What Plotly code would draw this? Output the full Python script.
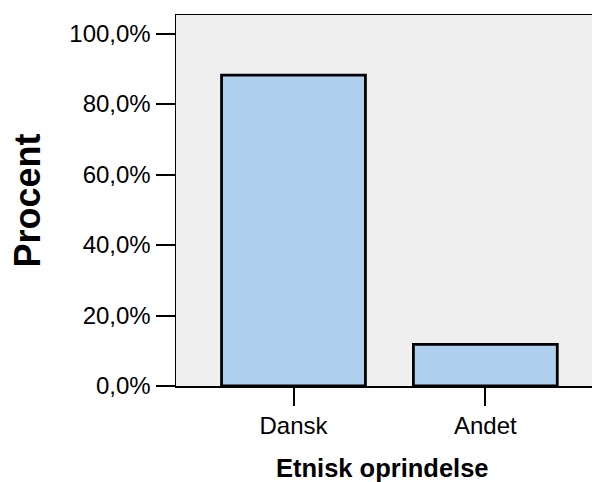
import plotly.graph_objects as go

categories = ["Dansk", "Andet"]
percent = [88.2, 11.8]
y_tickvals = [0, 20, 40, 60, 80, 100]
y_ticktext = ["0,0%", "20,0%", "40,0%", "60,0%", "80,0%", "100,0%"]

fig = go.Figure()
fig.add_trace(go.Bar(
    x=[0, 1], y=percent,
    width=0.75,
    marker=dict(color="#aecfee", line=dict(color="black", width=2.8)),
    hoverinfo="skip",
))

font = "Liberation Sans, Arial, sans-serif"
fig.update_layout(
    width=592, height=482,
    margin=dict(l=176, r=0, t=15, b=96, pad=0),
    paper_bgcolor="white",
    plot_bgcolor="#efefef",
    showlegend=False,
    font=dict(family=font, size=24, color="black"),
    xaxis=dict(
        range=[-0.6125, 1.556],
        tickvals=[0, 1], ticktext=categories,
        ticks="outside", ticklen=18, tickwidth=2, tickcolor="black",
        showline=True, linecolor="black", linewidth=1.5, mirror=True,
        showgrid=False, zeroline=False, fixedrange=True,
        tickfont=dict(size=24),
    ),
    yaxis=dict(
        range=[0, 105.26],
        tickvals=y_tickvals, ticktext=y_ticktext,
        ticks="outside", ticklen=19, tickwidth=2, tickcolor="black",
        showline=True, linecolor="black", linewidth=1.5,
        showgrid=False, zeroline=False, fixedrange=True,
        tickfont=dict(size=24),
    ),
    annotations=[
        dict(text="<b>Procent</b>", xref="paper", yref="paper",
             x=0, y=0.5, xshift=-149, textangle=-90, showarrow=False,
             font=dict(size=36, family=font), xanchor="center", yanchor="middle"),
        dict(text="<b>Etnisk oprindelse</b>", xref="paper", yref="paper",
             x=0.5, y=0, yshift=-82, xshift=-2, showarrow=False,
             font=dict(size=25.5, family=font), xanchor="center", yanchor="middle"),
    ],
)

fig.write_html(
    "out.html",
    config={"displayModeBar": False, "staticPlot": True},
    post_script="document.body.style.margin='0';document.body.style.overflow='hidden';",
)
